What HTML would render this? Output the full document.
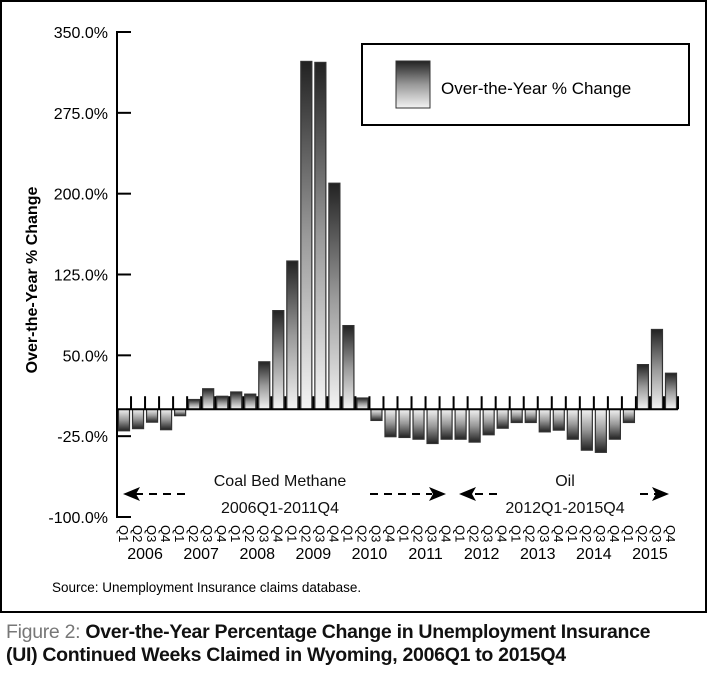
<!DOCTYPE html>
<html><head><meta charset="utf-8">
<style>
body{margin:0;background:#fff;width:708px;height:674px;overflow:hidden;font-family:"Liberation Sans",sans-serif}
#frame{position:absolute;left:0;top:0;width:703px;height:609px;border:2px solid #000}
.cap{position:absolute;left:6px;top:621px;font-size:19.5px;line-height:23px;font-weight:bold;color:#111;letter-spacing:-0.3px;font-family:"Liberation Sans Narrow","Liberation Sans",sans-serif}
.cap span{color:#777;font-weight:normal}
</style></head><body>
<div id="frame"></div>
<svg width="708" height="674" style="position:absolute;left:0;top:0">
<defs>
<linearGradient id="gp" x1="0" y1="0" x2="0" y2="1"><stop offset="0" stop-color="#222"/><stop offset="0.5" stop-color="#999"/><stop offset="1" stop-color="#f4f4f4"/></linearGradient>
<linearGradient id="gn" x1="0" y1="0" x2="0" y2="1"><stop offset="0" stop-color="#f4f4f4"/><stop offset="0.5" stop-color="#999"/><stop offset="1" stop-color="#222"/></linearGradient>
</defs>
<g id="bars"></g>
<g id="axes"></g>
<rect x="362" y="44" width="327" height="81" fill="#fff" stroke="#000" stroke-width="2"/>
<rect x="396" y="61" width="34" height="47" fill="url(#gp)" stroke="#333"/>
<text x="441" y="94" font-size="17">Over-the-Year % Change</text>
<text transform="translate(37,280) rotate(-90)" text-anchor="middle" font-size="16" font-weight="bold">Over-the-Year % Change</text>
<g font-size="16" fill="#111">
<text x="280" y="486" text-anchor="middle">Coal Bed  Methane</text>
<text x="280" y="513" text-anchor="middle">2006Q1-2011Q4</text>
<text x="565" y="486" text-anchor="middle">Oil</text>
<text x="565" y="513" text-anchor="middle">2012Q1-2015Q4</text>
<g stroke="#000" stroke-width="2" stroke-dasharray="8,6" fill="none">
<line x1="135" y1="494" x2="190" y2="494"/><line x1="370" y1="494" x2="432" y2="494"/>
<line x1="475" y1="494" x2="500" y2="494"/><line x1="640" y1="494" x2="660" y2="494"/></g>
<polygon points="123,494 140,487 136,494 140,501" fill="#000"/>
<polygon points="446,494 429,487 433,494 429,501" fill="#000"/>
<polygon points="459,494 476,487 472,494 476,501" fill="#000"/>
<polygon points="669,494 652,487 656,494 652,501" fill="#000"/>
</g>
<text x="52" y="592" font-size="13.5">Source: Unemployment Insurance claims database.</text>
</svg>
<div class="cap"><span>Figure 2:</span> Over-the-Year Percentage Change in Unemployment Insurance<br>(UI) Continued Weeks Claimed in Wyoming, 2006Q1 to 2015Q4</div>
<script>
const years=["2006","2007","2008","2009","2010","2011","2012","2013","2014","2015"];
const quarters=["Q1","Q2","Q3","Q4"];
const values=[-20,-18,-12,-19,-6,9,19,12,16,14,44,91.5,137.5,322.7,321.8,209.7,77.6,10.4,-10.4,-25.5,-26.2,-27.8,-31.8,-27.8,-27.8,-30.5,-23.7,-17.6,-12.3,-12.3,-21,-19.4,-27.8,-38,-40,-27.8,-12.3,41.4,74,33.4];
const ticks=[350,275,200,125,50,-25,-100];
const ns="http://www.w3.org/2000/svg";
const X0=117,X1=678,Y350=32,Y_100=517;
const pw=(X1-X0)/values.length;
function y(v){return Y350+(350-v)*(Y_100-Y350)/450;}
function x(i){return X0+i*pw;}
const bars=document.getElementById('bars'),axes=document.getElementById('axes');
function mk(p,tag,at){const e=document.createElementNS(ns,tag);for(const k in at)e.setAttribute(k,at[k]);p.appendChild(e);return e;}
values.forEach((v,i)=>{
 const r=mk(bars,'rect',{x:x(i)+1.5,y:Math.min(y(v),y(0)),width:pw-3,height:Math.abs(y(v)-y(0)),fill:v>=0?'url(#gp)':'url(#gn)',stroke:'#333','stroke-width':1.2});
 
 
 const t=mk(axes,'text',{transform:`translate(${x(i)+pw/2-5},${525}) rotate(90)`,'font-size':13});
 t.textContent=quarters[i%4];
 
 
});
for(let i=0;i<=values.length;i++){mk(axes,'line',{x1:x(i),x2:x(i),y1:y(0)-13,y2:y(0),stroke:'#000','stroke-width':2});}
years.forEach((yr,k)=>{
 const t=mk(axes,'text',{x:x(k*4+2),y:559,'text-anchor':'middle','font-size':16});
 t.textContent=yr;
 
 
});
const zl=mk(axes,'line',{x1:X0,x2:X1,y1:y(0),y2:y(0),stroke:'#000','stroke-width':2});


const ya=mk(axes,'line',{x1:X0,x2:X0,y1:Y350-1,y2:Y_100+1,stroke:'#000','stroke-width':2});


ticks.forEach(v=>{
 mk(axes,'line',{x1:X0,x2:X0+14,y1:y(v),y2:y(v),stroke:'#000','stroke-width':2});
 const t=mk(axes,'text',{x:108,y:y(v)+6,'text-anchor':'end','font-size':16});
 t.textContent=v.toFixed(1)+'%';
 
 
});
</script>
</body></html>
